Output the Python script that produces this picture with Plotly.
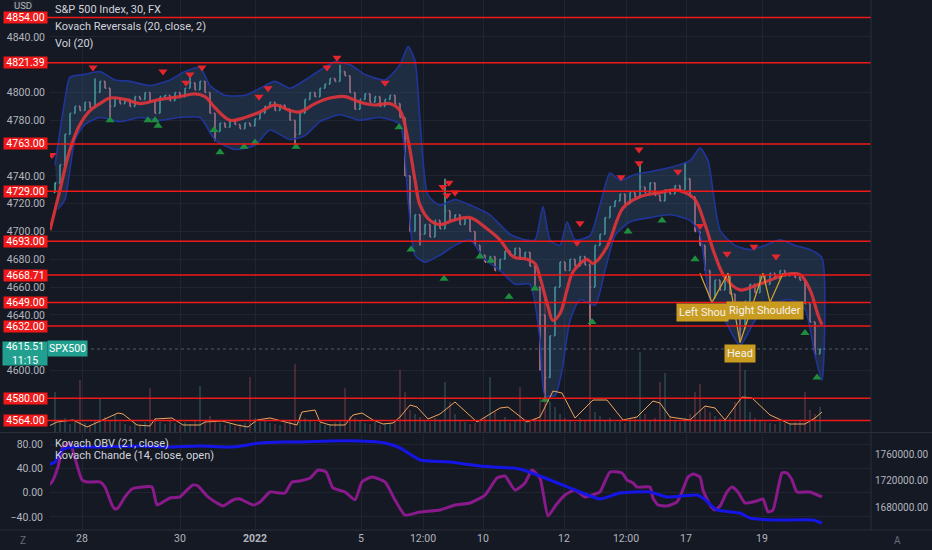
import plotly.graph_objects as go

# ---------------- data ----------------
first_open = 4728
close = [4735, 4748, 4770, 4785, 4790, 4787, 4793, 4789, 4800, 4808,
         4803, 4790, 4796, 4792, 4795, 4790, 4797, 4795, 4800, 4794,
         4785, 4797, 4798, 4794, 4800, 4797, 4803, 4807, 4802, 4808,
         4800, 4785, 4772, 4778, 4775, 4780, 4777, 4774, 4778, 4776,
         4781, 4785, 4790, 4793, 4787, 4791, 4788, 4780, 4770, 4785,
         4795, 4800, 4797, 4803, 4806, 4810, 4808, 4815, 4812, 4800,
         4788, 4795, 4799, 4793, 4797, 4790, 4795, 4798, 4792, 4782,
         4740, 4700, 4712, 4698, 4705, 4696, 4708, 4702, 4715, 4708,
         4712, 4705, 4709, 4700, 4690, 4683, 4678, 4682, 4672, 4680,
         4686, 4683, 4688, 4680, 4685, 4675, 4660, 4640, 4595, 4625,
         4660, 4678, 4672, 4680, 4675, 4682, 4676, 4660, 4690, 4698,
         4710, 4718, 4722, 4727, 4720, 4728, 4725, 4732, 4728, 4735,
         4726, 4722, 4730, 4727, 4733, 4730, 4738, 4725, 4700, 4690,
         4672, 4652, 4665, 4658, 4668, 4655, 4640, 4630, 4650, 4662,
         4656, 4668, 4662, 4670, 4666, 4672, 4668, 4670, 4667, 4665,
         4648, 4635, 4612, 4615.51]
spike_high_idx = [8, 27, 57, 78, 117, 126]
spike_high_val = [4810, 4812, 4820, 4738, 4748, 4750]
spike_low_idx = [11, 32, 48, 73, 97, 98, 107, 137]
spike_low_val = [4780, 4765, 4763, 4690, 4600, 4578, 4632, 4622]

volume = [40, 10, 14, 8, 10, 52, 9, 7, 11, 33, 15, 12, 18, 10, 8, 6, 9, 7, 10, 44,
          14, 10, 8, 12, 9, 7, 10, 8, 11, 46, 12, 16, 10, 9, 7, 8, 6, 8, 9, 55,
          14, 10, 12, 9, 8, 7, 9, 12, 68, 18, 14, 12, 10, 9, 7, 8, 10, 12, 44, 16,
          14, 12, 9, 8, 10, 7, 9, 8, 12, 62, 40, 22, 18, 15, 12, 10, 14, 12, 50, 30,
          18, 12, 10, 8, 9, 12, 14, 55, 20, 12, 15, 10, 12, 45, 12, 10, 14, 35, 133, 30,
          25, 18, 14, 12, 10, 14, 12, 110, 20, 16, 12, 14, 10, 12, 9, 11, 14, 80, 18, 12,
          14, 50, 59, 16, 12, 10, 14, 18, 40, 48, 25, 20, 16, 14, 12, 15, 30, 80, 62, 20,
          14, 12, 10, 9, 8, 10, 9, 8, 10, 12, 40, 22, 18, 25]

vol_ma_x = [-1.6, 0.4, 3.6, 6.4, 10.4, 12.6, 13.6, 16.4, 19, 20, 23.4, 25.6, 29, 30, 33.4,
            36.4, 38.6, 40.4, 43, 48.4, 49.4, 52, 53, 55, 58, 59.6, 61.4, 63.6, 65.6, 67.6,
            69, 71, 72.4, 74.6, 77, 80, 84.4, 89, 90.6, 94.4, 97, 99.6, 101.4, 104, 107.6,
            110.4, 113.6, 116.4, 119.6, 121, 123, 127, 130, 132, 134, 137.4, 139.4, 143, 147,
            150, 152, 153.4]
vol_ma_y = [5, 10, 12, 5, 14, 19, 18, 7, 6, 13, 14, 7, 7, 10, 11,
            7, 5, 12, 14, 7, 20, 22, 10, 7, 7, 17, 19, 12, 8, 9,
            15, 27, 25, 13, 18, 30, 10, 24, 25, 10, 15, 41, 39, 14, 32,
            32, 12, 15, 31, 29, 15, 12, 26, 24, 12, 35, 34, 17, 8,
            8, 14, 20]

ma_x = [-1, 1, 3, 5, 7, 9, 11, 14, 17, 21, 25, 28, 30, 32, 35, 38, 41, 44, 47, 49,
        52, 55, 58, 61, 64, 67, 69, 70.6, 72, 73, 75, 77, 79.6, 83, 86.4, 89, 91.6, 94.4, 96, 97,
        98.6, 99.6, 101, 102.4, 103.6, 106.4, 107.6, 110.4, 112.4, 113.6, 117, 121, 124, 126, 128, 130,
        132, 134, 137, 140, 143, 146, 149, 151, 152.6, 153.4]
ma_y = [4701, 4730, 4759, 4777, 4787, 4792, 4796, 4795, 4792, 4795, 4797, 4799, 4797, 4789, 4780,
        4782, 4786, 4791, 4787, 4786, 4792, 4796, 4797, 4793, 4791, 4792, 4787, 4766, 4737, 4719,
        4708, 4705, 4708, 4710, 4702, 4694, 4682, 4680, 4677, 4667, 4646, 4636, 4641, 4658, 4671,
        4680, 4677, 4689, 4708, 4717, 4725, 4728, 4730, 4728, 4723, 4705, 4683, 4667, 4658, 4661,
        4665, 4669, 4669, 4658, 4640, 4633]

band_up_x = [0, 2, 3, 6, 9, 12, 15, 19, 23, 26, 29, 31, 34, 38, 41, 44, 47, 50, 53, 56,
             59, 62, 66, 69, 70.6, 72, 73, 74.6, 77, 80, 83, 87, 91, 94, 96, 97.6, 99, 101, 102.4, 104,
             107, 109, 111, 113, 116, 119, 123, 127, 129, 130.6, 133, 136, 139, 142, 145, 148, 151, 153.4]
band_up_y = [4748, 4795, 4811, 4813, 4815, 4809, 4808, 4805, 4809, 4815, 4818, 4805, 4798, 4798, 4803,
             4808, 4803, 4809, 4816, 4822, 4820, 4813, 4809, 4820, 4833, 4823, 4780, 4726, 4719, 4723,
             4719, 4712, 4698, 4694, 4694, 4718, 4694, 4690, 4707, 4694, 4697, 4719, 4742, 4737, 4741,
             4743, 4746, 4751, 4760, 4751, 4701, 4690, 4687, 4690, 4694, 4690, 4687, 4681]
band_lo_x = [0.6, 2, 4, 6, 9, 13, 17, 21, 25, 29, 32, 36, 40, 43, 47, 50, 53, 57, 61, 65,
             69, 70.6, 72, 74, 77, 80, 83, 86, 89, 92, 95, 97, 98, 100, 101.4, 103, 105, 108, 110, 112,
             115, 119, 123, 127, 129, 131, 134, 137, 140, 143, 147, 150, 152, 153.4]
band_lo_y = [4716, 4723, 4766, 4777, 4782, 4779, 4782, 4780, 4782, 4782, 4766, 4759, 4762, 4773, 4766,
             4769, 4779, 4784, 4780, 4782, 4777, 4723, 4683, 4678, 4683, 4690, 4694, 4680, 4672, 4662,
             4662, 4622, 4582, 4582, 4600, 4636, 4651, 4647, 4672, 4697, 4707, 4710, 4712, 4708, 4698,
             4651, 4636, 4618, 4636, 4647, 4651, 4644, 4611, 4593]

rev_dn_x = [-0.6, 7.6, 21.6, 26.2, 27, 29.4, 40.8, 42.6, 54.4, 56.4, 66, 77.6, 78.8, 78.4, 80,
            104.4, 105, 113.2, 116.8, 116.8, 124.6, 129, 134.4, 139.8, 144.2]
rev_dn_y = [4755, 4818, 4815, 4807, 4813, 4818, 4797, 4803, 4818, 4825, 4807, 4732, 4735, 4726, 4728,
            4692, 4706, 4739, 4759, 4749, 4743, 4704, 4684, 4689, 4682]
rev_up_x = [11, 18.6, 20, 20.6, 31.8, 33, 37.8, 40, 48.2, 68.8, 71.2, 77.8, 85, 87.2, 90.8, 96, 98,
            107.4, 114.6, 121.4, 128, 150, 152.4]
rev_up_y = [4780, 4780, 4780, 4776, 4773, 4757, 4761, 4764, 4761, 4775, 4687, 4666, 4682, 4679, 4653,
            4659, 4579, 4635, 4700, 4708, 4680, 4627, 4595]

levels = [4854.00, 4821.39, 4763.00, 4729.00, 4693.00, 4668.71, 4649.00, 4632.00, 4580.00, 4564.00]
last_price = 4615.51
last_time = "11:15"

hs_x = [129, 131.4, 134.6, 137, 141.6, 143, 145.6]
hs_y = [4670, 4649, 4670, 4620, 4670, 4649, 4670]

chande_x = [-1.6, -0.6, 0.6, 1.6, 3, 4, 5.4, 6.4, 9, 10, 11.4, 12, 12.6, 14, 15.4, 17.4, 19.4, 20.4,
            21.6, 23, 25, 26.4, 27.6, 28.6, 30.6, 32.4, 33.6, 35.6, 37, 39.6, 41, 43, 45, 46, 47.4, 49,
            51, 52.6, 54.2, 55.6, 58, 60, 61.4, 63.4, 66, 68, 70, 73, 77, 80, 83, 86, 88.4, 90, 92, 94,
            95.4, 97, 98.6, 100.2, 102, 104, 106, 108, 109, 111, 113.4, 114.4, 115.6, 116.4, 119, 119.6,
            120.6, 122.4, 124.4, 125.4, 126.6, 127.6, 129, 129.6, 131, 132, 133, 134.4, 135.4, 136.6,
            138, 140.4, 141.6, 142.6, 143.6, 145.4, 146.4, 147.4, 148.4, 151, 153.4]
chande_y = [9.2, 17.5, 42.1, 75.1, 81.6, 57, 20.7, 17.5, 17.5, 9.2, -20.4, -27, -25.3, -7.2, 5.9, 9.2,
            9.2, -20.4, -15.5, -8.9, -7.2, 4.3, 12.5, 10.9, -7.2, -17.1, -22, -12.2, -10.5, -20.4, -15.5,
            1, -0.7, -0.7, 17.5, 19.1, 24, 37, 34, 7.6, 1, -12, 17.5, 25.7, 17.5, -12, -37, -32, -28.6,
            -20.4, -17.1, -4, 24, 27.3, 4.3, 15.8, 37.2, 24, -38.5, -20.4, -4, 4.3, -7.2, -2.3, 1, 33.9,
            32.3, 20.7, 15.8, 9.2, 9.2, -8.9, -20.4, -22, -15.5, 1, 25.7, 30.6, 25.7, 4.3, -20.4, -28.6,
            -22, 1, 9.2, 1, -17.1, -13.8, -10.5, -31.9, -28.6, 32.3, 32.3, 20.7, 1, 1, -7.2]

obv_x = [-1.6, 0, 1.4, 3.6, 9, 17, 22.4, 29, 35.6, 41, 45.6, 49, 55, 61, 66, 69, 73, 79, 85, 93, 97,
         101, 105, 109, 113, 119, 122.4, 128.4, 129.6, 132.4, 137, 139, 143.6, 151.6, 153.4]
obv_y = [1743400, 1747900, 1766000, 1770600, 1770600, 1772100, 1770600, 1772100, 1770600, 1776600,
         1778100, 1778100, 1779600, 1779600, 1776600, 1769100, 1750900, 1747900, 1741900, 1737400,
         1726800, 1714700, 1702600, 1692100, 1701100, 1702600, 1695100, 1698100, 1693600, 1675500,
         1670900, 1663400, 1660400, 1660400, 1655800]

x_tick_pos = [5.4, 25, 40, 61.2, 73.6, 85.6, 101.8, 114.2, 126.2, 141.4]
x_tick_txt = ["28", "30", "<b>2022</b>", "5", "12:00", "10", "12", "12:00", "17", "19"]
price_ticks = [4840, 4800, 4780, 4740, 4720, 4700, 4680, 4660, 4640, 4600]

# ---------------- derived OHLC ----------------
n = len(close)
idx = list(range(n))
opens = [first_open] + close[:-1]
highs = [max(o, c) for o, c in zip(opens, close)]
lows = [min(o, c) for o, c in zip(opens, close)]
for i, v in zip(spike_high_idx, spike_high_val):
    highs[i] = v
for i, v in zip(spike_low_idx, spike_low_val):
    lows[i] = v
vol_col = ["rgba(80,150,150,0.28)" if c >= o else "rgba(190,90,100,0.28)" for o, c in zip(opens, close)]

BG = "#151924"
TXT = "#b2b5be"
FONT = "Roboto"
PW = 821.0  # plot width px

fig = go.Figure()

# volume
fig.add_trace(go.Bar(x=idx, y=volume, marker=dict(color=vol_col, line=dict(width=0)),
                     width=0.4, xaxis="x", yaxis="y2", showlegend=False))
fig.add_trace(go.Scatter(x=vol_ma_x, y=vol_ma_y, mode="lines", line=dict(color="#f0a45c", width=1),
                         xaxis="x", yaxis="y2", showlegend=False))

# band
fig.add_trace(go.Scatter(x=band_up_x + band_lo_x[::-1], y=band_up_y + band_lo_y[::-1],
                         fill="toself", fillcolor="rgba(55,92,140,0.30)", mode="lines",
                         line=dict(color="#20359a", width=1.6, shape="spline", smoothing=0.6),
                         xaxis="x", yaxis="y", showlegend=False))

# price bars (dense, thin)
fig.add_trace(go.Ohlc(x=idx, open=opens, high=highs, low=lows, close=close,
                      increasing=dict(line=dict(color="#4aa89f", width=1.6)),
                      decreasing=dict(line=dict(color="#c27a84", width=1.6)),
                      tickwidth=0.25, xaxis="x", yaxis="y", showlegend=False))

# moving average
fig.add_trace(go.Scatter(x=ma_x, y=ma_y, mode="lines",
                         line=dict(color="rgba(224,52,58,0.9)", width=3.2, shape="spline", smoothing=1.0),
                         xaxis="x", yaxis="y", showlegend=False))

# head & shoulders drawing
fig.add_trace(go.Scatter(x=hs_x, y=hs_y, mode="lines", line=dict(color="#d4a52a", width=1.2),
                         xaxis="x", yaxis="y", showlegend=False))

# reversal markers
fig.add_trace(go.Scatter(x=rev_dn_x, y=rev_dn_y, mode="markers",
                         marker=dict(symbol="triangle-down", size=8, color="#e3262e"),
                         xaxis="x", yaxis="y", showlegend=False))
fig.add_trace(go.Scatter(x=rev_up_x, y=rev_up_y, mode="markers",
                         marker=dict(symbol="triangle-up", size=8, color="#1e8e3e"),
                         xaxis="x", yaxis="y", showlegend=False))

# lower pane
fig.add_trace(go.Scatter(x=chande_x, y=chande_y, mode="lines",
                         line=dict(color="#8a1a8c", width=3, shape="spline", smoothing=0.5),
                         xaxis="x2", yaxis="y3", showlegend=False))
fig.add_trace(go.Scatter(x=obv_x, y=obv_y, mode="lines",
                         line=dict(color="#1515e6", width=3, shape="spline", smoothing=0.5),
                         xaxis="x2", yaxis="y4", showlegend=False))

shapes = []
for lv in levels:
    shapes.append(dict(type="line", xref="paper", yref="y", x0=-4 / PW, x1=1, y0=lv, y1=lv,
                       line=dict(color="#f01818", width=1.5)))
shapes.append(dict(type="line", xref="paper", yref="y", x0=35 / PW, x1=1, y0=last_price, y1=last_price,
                   line=dict(color="rgba(140,145,155,0.55)", width=1, dash="dot")))
shapes.append(dict(type="line", xref="paper", yref="paper", x0=-50 / PW, x1=1 + 61 / PW,
                   y0=97.5 / 530, y1=97.5 / 530, line=dict(color="#2a2e39", width=1)))
shapes.append(dict(type="line", xref="paper", yref="paper", x0=1, x1=1, y0=0, y1=1,
                   line=dict(color="#2a2e39", width=1)))
shapes.append(dict(type="line", xref="paper", yref="paper", x0=-50 / PW, x1=1 + 61 / PW,
                   y0=0, y1=0, line=dict(color="#2a2e39", width=1)))

LBL = 10.5
ann = []
for lv in levels:
    ann.append(dict(xref="paper", yref="y", x=(25 - 50) / PW, y=lv, text=f"{lv:.2f}", showarrow=False,
                    xanchor="center", yanchor="middle", bgcolor="#f01818", width=43, height=11,
                    font=dict(color="white", size=LBL, family=FONT), borderpad=0))
ann.append(dict(xref="paper", yref="paper", x=(23 - 50) / PW, y=1 - 6 / 530, text="USD", showarrow=False,
                xanchor="center", yanchor="middle", bgcolor="#1e222d",
                font=dict(color=TXT, size=9.5, family=FONT), borderpad=0))
ann.append(dict(xref="paper", yref="y", x=(25 - 50) / PW, y=last_price, yshift=-5,
                text=f"{last_price:.2f}<br>{last_time}", showarrow=False, xanchor="center",
                yanchor="middle", width=44, height=23, bgcolor="#22a08f",
                font=dict(color="white", size=LBL, family=FONT), borderpad=0))
ann.append(dict(xref="paper", yref="y", x=(67 - 50) / PW, y=last_price, text="SPX500", showarrow=False,
                xanchor="center", yanchor="middle", bgcolor="#22a08f",
                font=dict(color="white", size=LBL, family=FONT), borderpad=1))
legend_lines = [("S&P 500 Index, 30, FX", 10), ("Kovach Reversals (20, close, 2)", 27), ("Vol (20)", 44),
                ("Kovach OBV (21, close)", 443), ("Kovach Chande (14, close, open)", 455)]
for t, ypx in legend_lines:
    ann.append(dict(xref="paper", yref="paper", x=3 / PW, y=1 - ypx / 530, text=t, showarrow=False,
                    xanchor="left", yanchor="middle", font=dict(color="#d1d4dc", size=11, family=FONT)))
# pattern labels
ann.append(dict(xref="x", yref="y", x=129.4, y=4642, text="Left Shou", showarrow=False,
                bgcolor="#c99b1f", font=dict(color="#f2f2f2", size=11, family=FONT), borderpad=2))
ann.append(dict(xref="x", yref="y", x=142, y=4643.5, text="Right Shoulder", showarrow=False,
                bgcolor="#c99b1f", font=dict(color="#f2f2f2", size=11, family=FONT), borderpad=2))
ann.append(dict(xref="x", yref="y", x=137, y=4612.5, text="Head", showarrow=False,
                bgcolor="#c99b1f", font=dict(color="#f2f2f2", size=11, family=FONT), borderpad=2))
# corner buttons
ann.append(dict(xref="paper", yref="paper", x=(23 - 50) / PW, y=-10 / 530, text="Z", showarrow=False,
                xanchor="center", yanchor="middle", font=dict(color="#6a6d78", size=10, family=FONT)))
ann.append(dict(xref="paper", yref="paper", x=(898 - 50) / PW, y=-10 / 530, text="A", showarrow=False,
                xanchor="center", yanchor="middle", font=dict(color="#6a6d78", size=10, family=FONT)))

grid = "#20242f"
tf = dict(size=10.5, color=TXT, family=FONT)
fig.update_layout(
    width=932, height=550, margin=dict(l=50, r=61, t=0, b=20),
    paper_bgcolor=BG, plot_bgcolor=BG, showlegend=False, bargap=0,
    font=dict(family=FONT, color=TXT, size=11),
    xaxis=dict(domain=[0, 1], anchor="y", range=[-1, 163.2], showticklabels=False,
               tickvals=x_tick_pos, showgrid=True, gridcolor=grid, zeroline=False,
               rangeslider=dict(visible=False), fixedrange=True),
    xaxis2=dict(domain=[0, 1], anchor="y3", matches="x", range=[-1, 163.2], tickvals=x_tick_pos,
                ticktext=x_tick_txt, showgrid=True, gridcolor=grid, zeroline=False, ticks="",
                tickfont=tf, rangeslider=dict(visible=False)),
    yaxis=dict(domain=[98 / 530, 1], range=[4555.8, 4866.5], tickvals=price_ticks, tickformat=".2f",
               showgrid=True, gridcolor=grid, zeroline=False, ticks="", ticklabelstandoff=4,
               tickfont=tf, automargin=False),
    yaxis2=dict(overlaying="y", range=[0, 432], visible=False),
    yaxis3=dict(domain=[0, 96 / 530], range=[-61.6, 96.5], tickvals=[80, 40, 0, -40], tickformat=".2f",
                showgrid=True, gridcolor=grid, zeroline=False, ticks="", ticklabelstandoff=6,
                tickfont=tf, anchor="x2", automargin=False),
    yaxis4=dict(overlaying="y3", side="right", anchor="x2", range=[1645283, 1790189],
                tickvals=[1680000, 1720000, 1760000], tickformat=".2f", showgrid=False, zeroline=False,
                ticks="", ticklabelstandoff=3, tickfont=dict(size=10, color=TXT, family=FONT),
                automargin=False),
    shapes=shapes, annotations=ann,
)

fig.write_html("out.html", config={"displayModeBar": False},
               post_script="document.body.style.margin='0';document.body.style.overflow='hidden';")
